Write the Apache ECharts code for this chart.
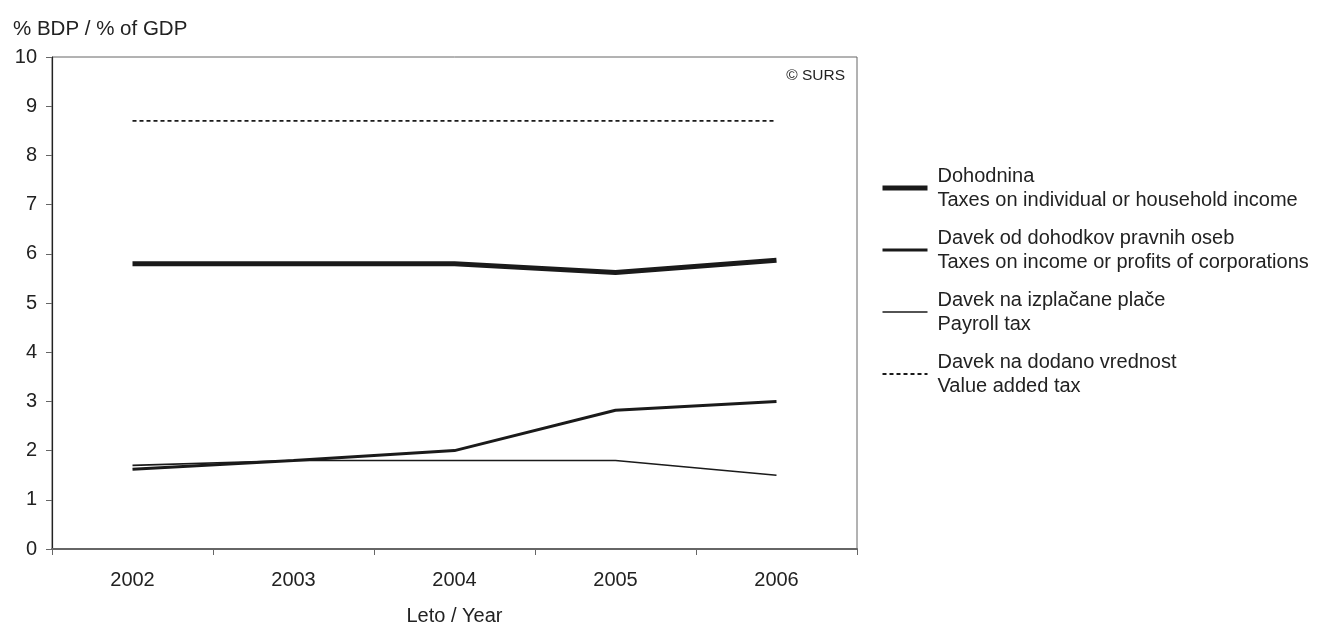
<!DOCTYPE html>
<html>
<head>
<meta charset="utf-8">
<script src="https://cdn.jsdelivr.net/npm/echarts@6/dist/echarts.min.js"></script>
<style>
  html, body { margin: 0; padding: 0; background: #fff; }
  #chart { width: 1329px; height: 626px; }
</style>
</head>
<body>
<div id="chart"></div>
<script>
// Tax revenue as share of GDP, Slovenia 2002–2006
const years = ['2002', '2003', '2004', '2005', '2006'];
const personalIncomeTax = [5.8, 5.8, 5.8, 5.62, 5.87];
const corporateTax = [1.62, 1.8, 2.0, 2.82, 3.0];
const payrollTax = [1.7, 1.8, 1.8, 1.8, 1.5];
const valueAddedTax = [8.7, 8.7, 8.7, 8.7, 8.7];

const seriesNames = [
  'Dohodnina\nTaxes on individual or household income',
  'Davek od dohodkov pravnih oseb\nTaxes on income or profits of corporations',
  'Davek na izplačane plače\nPayroll tax',
  'Davek na dodano vrednost\nValue added tax'
];
const lineWidths = [5, 3, 1.6, 1.8];
const lineTypes = ['solid', 'solid', 'solid', [4, 3]];

const font = 'Liberation Sans, Arial, sans-serif';
const axisGray = '#666666';
const ink = '#1a1a1a';
const textColor = '#222222';

const chart = echarts.init(document.getElementById('chart'));

function lineSeries(i, data) {
  return {
    name: seriesNames[i],
    type: 'line',
    data: data,
    symbol: 'none',
    showSymbol: false,
    animation: false,
    lineStyle: { color: ink, width: lineWidths[i], type: lineTypes[i] },
    itemStyle: { color: ink }
  };
}

chart.setOption({
  backgroundColor: '#ffffff',
  textStyle: { fontFamily: font },
  title: {
    text: '© SURS',
    right: 484,
    top: 68,
    padding: 0,
    textStyle: { fontFamily: font, fontSize: 15.5, fontWeight: 'normal', color: textColor }
  },
  grid: {
    left: 52, right: 472, top: 57, bottom: 77,
    outerBoundsMode: 'none',
    containLabel: false,
    show: true, borderColor: axisGray, borderWidth: 1
  },
  legend: {
    orient: 'vertical',
    left: 880,
    top: 164,
    padding: 0,
    itemWidth: 45,
    itemHeight: 6,
    itemGap: 14,
    selectedMode: false,
    itemStyle: { opacity: 0, borderWidth: 0 },
    textStyle: { fontFamily: font, fontSize: 20, color: textColor, lineHeight: 24, padding: [0, 0, 0, 5] },
    data: seriesNames.map(function (name, i) {
      return {
        name: name,
        itemStyle: { opacity: 0, borderWidth: 0 },
        lineStyle: { color: ink, width: lineWidths[i], type: lineTypes[i] }
      };
    })
  },
  xAxis: {
    type: 'category',
    data: years,
    boundaryGap: true,
    name: 'Leto / Year',
    nameLocation: 'middle',
    nameGap: 57,
    nameTextStyle: { fontFamily: font, fontSize: 20, color: textColor },
    axisLine: { lineStyle: { color: axisGray, width: 2 } },
    axisTick: { show: true, length: 6, alignWithLabel: false, lineStyle: { color: axisGray } },
    axisLabel: { fontFamily: font, fontSize: 20, color: textColor, margin: 21 },
    splitLine: { show: false }
  },
  yAxis: {
    type: 'value',
    min: 0, max: 10, interval: 1,
    name: '% BDP / % of GDP',
    nameLocation: 'end',
    nameGap: 17,
    nameTextStyle: { fontFamily: font, fontSize: 20.5, color: textColor, align: 'left', padding: [0, 0, 0, -39] },
    axisLine: { show: true, lineStyle: { color: '#222', width: 1.2 } },
    axisTick: { show: true, length: 6, lineStyle: { color: axisGray } },
    axisLabel: { fontFamily: font, fontSize: 20, color: textColor, margin: 15 },
    splitLine: { show: false }
  },
  series: [
    lineSeries(0, personalIncomeTax),
    lineSeries(1, corporateTax),
    lineSeries(2, payrollTax),
    lineSeries(3, valueAddedTax)
  ]
});
</script>
</body>
</html>
